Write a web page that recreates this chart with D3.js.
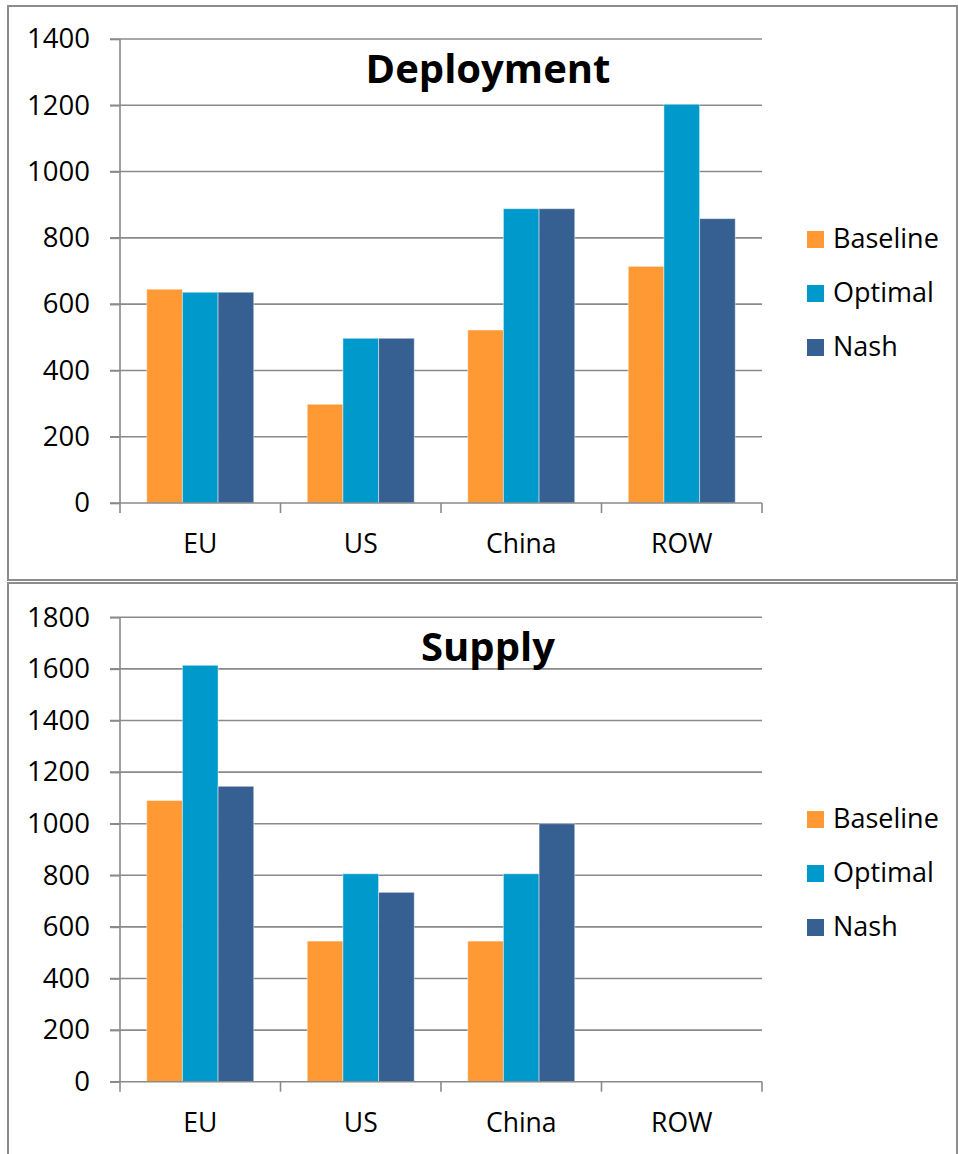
<!DOCTYPE html>
<html>
<head>
<meta charset="utf-8">
<script src="https://cdn.jsdelivr.net/npm/d3@7"></script>
<style>
  html, body { margin: 0; padding: 0; background: #ffffff; }
  svg { display: block; }
  text { font-family: "Open Sans", "Noto Sans", sans-serif; fill: #000; }
</style>
</head>
<body>
<svg id="chart" width="958" height="1154"></svg>
<script>
const categories = ["EU", "US", "China", "ROW"];
const seriesNames = ["Baseline", "Optimal", "Nash"];
const seriesColors = ["#FF9933", "#0099CC", "#366092"];

const deploymentBaseline = [645, 298, 522, 714];
const deploymentOptimal  = [636, 497, 888, 1203];
const deploymentNash     = [636, 497, 888, 858];
const deploymentTicks    = [0, 200, 400, 600, 800, 1000, 1200, 1400];

const supplyBaseline = [1090, 545, 545, 0];
const supplyOptimal  = [1614, 806, 806, 0];
const supplyNash     = [1145, 734, 1000, 0];
const supplyTicks    = [0, 200, 400, 600, 800, 1000, 1200, 1400, 1600, 1800];

const svg = d3.select("#chart");
const gridColor = "#8a8a8a";

function drawPanel(cfg) {
  const g = svg.append("g");
  // panel border
  g.append("rect")
    .attr("x", cfg.panel[0]).attr("y", cfg.panel[1])
    .attr("width", cfg.panel[2]).attr("height", cfg.panel[3])
    .attr("fill", "#fff").attr("stroke", "#8c8c8c").attr("stroke-width", 2);

  const x = d3.scaleBand().domain(categories).range([cfg.left, cfg.right])
    .paddingInner(1/3).paddingOuter(1/6);
  const xs = d3.scaleBand().domain(seriesNames).range([0, x.bandwidth()]);
  const yMax = cfg.ticks[cfg.ticks.length - 1];
  const y = d3.scaleLinear().domain([0, yMax]).range([cfg.bottom, cfg.top]);

  // gridlines
  g.append("g").selectAll("line").data(cfg.ticks.filter(t => t > 0)).join("line")
    .attr("x1", cfg.left - 10).attr("x2", cfg.right)
    .attr("y1", d => y(d)).attr("y2", d => y(d))
    .attr("stroke", gridColor).attr("stroke-width", 1.6);

  // bars
  const rows = categories.map((c, i) => ({ cat: c, vals: cfg.series.map(s => s[i]) }));
  const grp = g.append("g").selectAll("g").data(rows).join("g")
    .attr("transform", d => `translate(${x(d.cat)},0)`);
  grp.selectAll("rect").data(d => d.vals.map((v, j) => ({ v, name: seriesNames[j], color: seriesColors[j] })))
    .join("rect")
    .attr("x", d => xs(d.name)).attr("width", xs.bandwidth())
    .attr("y", d => y(d.v)).attr("height", d => y(0) - y(d.v))
    .attr("fill", d => d.color)
    .attr("stroke", "rgba(255,255,255,0.45)").attr("stroke-width", 1);

  // y axis
  const yAxis = d3.axisLeft(y).tickValues(cfg.ticks).tickSize(10).tickPadding(20)
    .tickFormat(d3.format("d"));
  const ya = g.append("g").attr("transform", `translate(${cfg.left},0)`).call(yAxis);
  ya.select(".domain").attr("stroke", gridColor).attr("stroke-width", 1.6)
    .attr("d", `M0,${cfg.top}V${cfg.bottom}`);
  ya.selectAll(".tick line").attr("stroke", gridColor).attr("stroke-width", 1.6);
  ya.selectAll(".tick text").attr("font-size", 27.5).attr("fill", "#000")
    .attr("font-family", "'Open Sans', sans-serif");

  // x axis baseline + boundary ticks
  const step = x.step();
  const xa = g.append("g");
  xa.append("line").attr("x1", cfg.left - 10).attr("x2", cfg.right)
    .attr("y1", y(0)).attr("y2", y(0)).attr("stroke", gridColor).attr("stroke-width", 1.6);
  xa.selectAll("line.tk").data(d3.range(categories.length + 1)).join("line")
    .attr("class", "tk")
    .attr("x1", i => cfg.left + i * step).attr("x2", i => cfg.left + i * step)
    .attr("y1", y(0)).attr("y2", y(0) + 10)
    .attr("stroke", gridColor).attr("stroke-width", 1.6);
  const xAxis = d3.axisBottom(x).tickSize(0).tickPadding(0);
  const xl = g.append("g").attr("transform", `translate(0,${y(0)})`).call(xAxis);
  xl.select(".domain").remove();
  xl.selectAll(".tick text").attr("font-size", 26.5).attr("fill", "#000")
    .attr("font-family", "'Open Sans', sans-serif")
    .attr("y", 50).attr("dy", 0);

  // title
  g.append("text").attr("x", 488).attr("y", cfg.top + 44)
    .attr("text-anchor", "middle").attr("font-weight", "bold").attr("font-size", 40)
    .text(cfg.title);

  // legend
  const lg = g.append("g").attr("transform", `translate(807,${cfg.legendTop})`);
  const li = lg.selectAll("g").data(seriesNames).join("g")
    .attr("transform", (d, i) => `translate(0,${i * 54})`);
  li.append("rect").attr("width", 17).attr("height", 17)
    .attr("fill", (d, i) => seriesColors[i]);
  li.append("text").attr("x", 26).attr("y", 17).attr("font-size", 27).text(d => d);
}

drawPanel({
  panel: [8, 6, 949, 574],
  left: 120, right: 762, top: 39, bottom: 503,
  ticks: deploymentTicks,
  series: [deploymentBaseline, deploymentOptimal, deploymentNash],
  title: "Deployment",
  legendTop: 231
});

drawPanel({
  panel: [8, 583, 949, 600],
  left: 120, right: 762, top: 617.3, bottom: 1081.7,
  ticks: supplyTicks,
  series: [supplyBaseline, supplyOptimal, supplyNash],
  title: "Supply",
  legendTop: 811
});
</script>
</body>
</html>
